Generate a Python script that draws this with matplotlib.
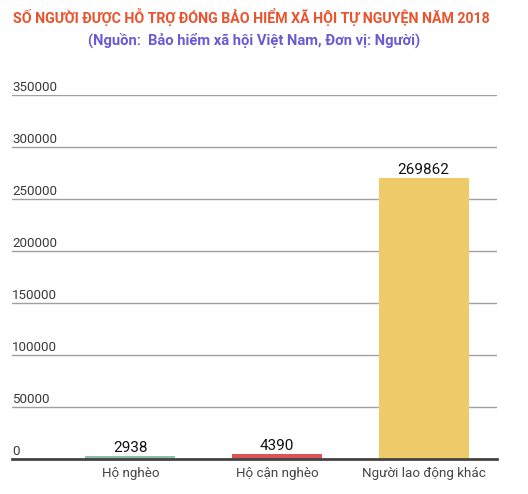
import matplotlib
matplotlib.use("Agg")
import matplotlib.pyplot as plt

categories = ["Hộ nghèo", "Hộ cận nghèo", "Người lao động khác"]
values = [2938, 4390, 269862]
colors = ["#8bc3a2", "#db5455", "#efca69"]
yticks = [0, 50000, 100000, 150000, 200000, 250000, 300000, 350000]

plt.rcParams["font.family"] = ["Roboto", "DejaVu Sans"]

fig = plt.figure(figsize=(5.28, 4.94), dpi=100)
ax = fig.add_axes([12 / 528, 35 / 494, 485 / 528, 364 / 494])

x = list(range(len(categories)))
bars = ax.bar(x, values, width=0.614, color=colors, zorder=2)
for xi, v in zip(x, values):
    ax.text(xi, v + 4200, str(v), ha="center", va="baseline",
            fontsize=11, color="#111111")

ax.set_xlim(-0.807, 2.5)
ax.set_ylim(0, 350000)
ax.set_yticks(yticks)
ax.set_yticklabels([])
ax.tick_params(axis="y", length=0)
ax.grid(axis="y", color="#a0a0a0", linewidth=1, zorder=0)
for t in yticks:
    ax.text(-0.807, t + 3500, str(t), ha="left", va="baseline",
            fontsize=9.6, color="#3a3a3a")

ax.set_xticks(x)
ax.set_xticklabels(categories, fontsize=9.6, color="#444444")
ax.tick_params(axis="x", length=0, pad=6)

for s in ["top", "right", "left"]:
    ax.spines[s].set_visible(False)
ax.spines["bottom"].set_color("#444444")
ax.spines["bottom"].set_linewidth(2)
ax.spines["bottom"].set_zorder(3)

fig.text(251 / 528, 1 - 17 / 494, "SỐ NGƯỜI ĐƯỢC HỖ TRỢ ĐÓNG BẢO HIỂM XÃ HỘI TỰ NGUYỆN NĂM 2018",
         ha="center", va="center", fontsize=10.2, fontweight="bold", color="#e9532e")
fig.text(254 / 528, 1 - 40 / 494, "(Nguồn:  Bảo hiểm xã hội Việt Nam, Đơn vị: Người)",
         ha="center", va="center", fontsize=10.6, fontweight="bold", color="#6a5ad8")

fig.savefig("out.png", dpi=100)
plt.close(fig)
